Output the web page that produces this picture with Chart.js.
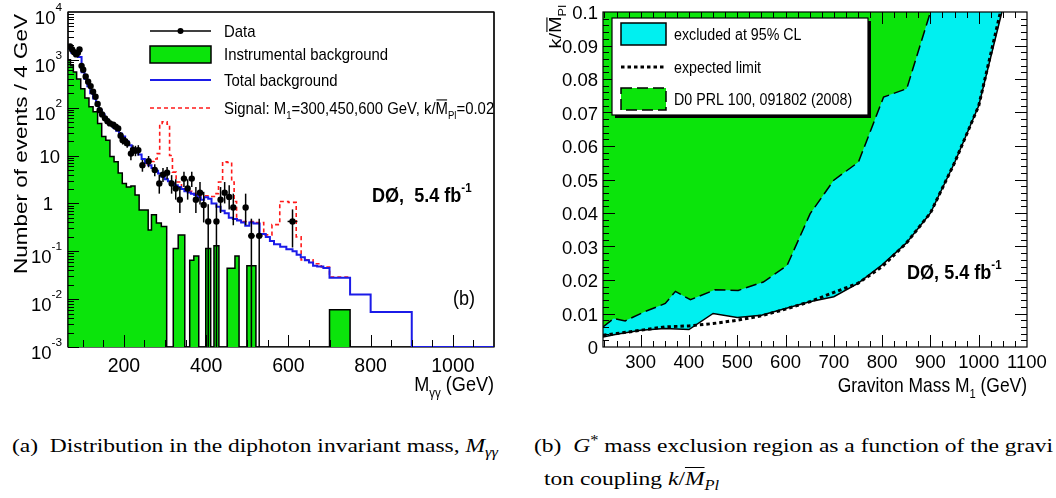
<!DOCTYPE html>
<html>
<head>
<meta charset="utf-8">
<script src="https://cdn.jsdelivr.net/npm/chart.js@4.4.1/dist/chart.umd.min.js"></script>
<style>
  html, body { margin: 0; padding: 0; background: #fff; width: 1056px; height: 498px; overflow: hidden; }
  canvas { position: absolute; top: 0; }
  #left { left: 0; }
  #right { left: 530px; }
  .cap { position: absolute; font-family: "Liberation Serif", "Times New Roman", serif; font-size: 19.5px;
         line-height: 20px; white-space: nowrap; color: #000; transform-origin: 0 0; }
  .cap sub, .cap sup { font-size: 70%; line-height: 0; }
  .ov { text-decoration: overline; }
</style>
</head>
<body>
<canvas id="left" width="525" height="405"></canvas>
<canvas id="right" width="526" height="405"></canvas>
<div id="capA" class="cap" style="left:12px;top:436px">(a)&nbsp; Distribution in the diphoton invariant mass, <i>M<sub>γγ</sub></i></div>
<div class="cap" style="left:534px;top:436px">(b)&nbsp; <i>G</i><sup>*</sup> mass exclusion region as a function of the gravi</div>
<div class="cap" style="left:544px;top:469px">ton coupling <i>k</i>/<i><span class="ov">M</span><sub>Pl</sub></i></div>
<script>
// ---------- panel (a): diphoton invariant mass ----------
const massMin = 64, massMax = 1100;
const FLOOR = 1e-3; // empty bins sit on the axis floor of the log scale

// instrumental background (green), bin low edges and heights
const instEdges = [64, 70, 77, 85, 95, 105, 115, 125, 136, 146, 156, 166, 176, 186, 196, 206, 217, 227, 237, 259,
  267, 279, 291, 304, 320, 332, 348, 360, 370, 382, 399, 411, 419, 431, 451, 470, 480, 499, 521, 700, 750, 1100];
const instVals = [1000, 750, 560, 400, 250, 160, 105, 82, 47, 25, 21, 9.6, 7.4, 4.3, 2.6, 2.2, 2.3, 1.5, 0.73, 0.28,
  0.58, 0.39, 0.33, 0, 0.115, 0.22, 0, 0.065, 0.08, 0, 0.115, 0, 0.13, 0, 0.044, 0.08, 0, 0.05, 0, 0.006, 0, 0];

// total background (blue)
const bkgEdges = [64, 72, 80, 88, 97, 104, 111, 118, 125, 132, 139, 146, 153, 160, 167, 174, 181, 188, 195, 203,
  211, 219, 227, 235, 243, 251, 259, 267, 275, 283, 291, 299, 307, 315, 323, 331, 339, 347, 355, 363,
  371, 379, 387, 395, 405, 413, 425, 435, 445, 455, 465, 475, 485, 495, 505, 515, 530, 545, 555, 565,
  580, 595, 610, 620, 630, 640, 650, 660, 670, 685, 700, 750, 800, 900, 1100];
const bkgVals = [1700, 1400, 1250, 1150, 550, 400, 280, 200, 155, 115, 90, 72, 58, 50, 44, 38, 33, 29, 25, 20,
  16.5, 14, 12, 10.5, 8.5, 7, 6.3, 5.5, 4.8, 4.2, 3.6, 3.2, 2.9, 2.6, 2.4, 2.2, 2.0, 1.8, 1.7, 1.6,
  1.5, 1.35, 1.2, 1.35, 1.25, 1.0, 0.85, 0.7, 0.62, 0.5, 0.47, 0.44, 0.4, 0.34, 0.4, 0.38, 0.23, 0.2, 0.165, 0.14,
  0.125, 0.11, 0.1, 0.085, 0.075, 0.065, 0.058, 0.05, 0.048, 0.045, 0.028, 0.0125, 0.0054, 0, 0];

// background + signal, M1 = 300, 450, 600 GeV (red dashed)
const sigEdges = [255, 265, 273, 281, 287, 293, 305, 311, 318, 327, 340, 350, 365, 380, 395, 410, 420, 430, 440, 451,
  462, 468, 474, 490, 520, 540, 560, 579, 600, 619, 631, 660, 680, 700, 750];
const sigVals = [6.5, 7.5, 8.5, 11, 45, 51, 45, 10, 4.5, 2.8, 2.2, 1.8, 1.6, 1.45, 1.45, 1.4, 1.6, 2.8, 7.4, 7.2,
  2.8, 1.1, 0.45, 0.42, 0.4, 0.22, 0.36, 1.1, 1.05, 0.2, 0.066, 0.055, 0.047, 0.029, 0.029];

// data points with error bar ends
const dataM = [69, 74, 79, 84, 88, 92, 97, 101, 107, 113, 119, 125, 131, 136, 141, 147, 154, 160, 166, 174,
  180, 186, 192, 197, 203, 208, 217, 222, 228, 235, 245, 260, 275, 286, 295, 305, 316, 326, 336, 346,
  355, 365, 375, 385, 394, 405, 425, 435, 445, 456, 466, 496, 510, 529, 610];
const dataN = [1900, 1650, 1450, 1300, 1400, 1650, 750, 620, 450, 350, 283, 215, 170, 120, 89, 72, 60, 52, 47, 44,
  40, 37, 26, 21, 20, 18, 11, 13, 12.6, 13, 6.3, 7.6, 5, 2.6, 4, 4.4, 2.6, 2.05, 1.2, 3.3,
  2.05, 3.3, 1.2, 1.68, 0.93, 0.42, 0.42, 1.2, 1.68, 1.37, 0.82, 0.82, 0.21, 0.21, 0.42];
const dataLo = [null, null, null, null, null, null, null, null, null, null, null, null, null, null, null, null, null, null, null, null,
  null, null, 21, 17, 16, 14.5, 8, 10, 9.7, 10, 4.6, 5.7, 3.7, 1.6, 2.8, 3.2, 1.6, 1.2, 0.63, 2.2,
  1.2, 2.2, 0.63, 0.95, 0.4, 0, 0, 0.63, 1.0, 0.75, 0.35, 0.35, 0, 0, 0.12];
const dataHi = [null, null, null, null, null, null, null, null, null, null, null, null, null, null, null, null, null, null, null, null,
  null, null, 31, 25.5, 24.5, 22, 14.5, 16.5, 16, 16.5, 8.1, 9.8, 6.6, 4.0, 5.5, 5.8, 3.9, 3.2, 2.2, 4.6,
  3.2, 4.6, 2.2, 2.8, 1.75, 0.96, 0.96, 2.2, 2.8, 2.4, 1.6, 1.6, 0.48, 0.48, 0.75];
const dataXErr = [0, 0, 0, 0, 0, 0, 0, 0, 0, 0, 0, 0, 0, 0, 0, 0, 0, 0, 0, 0,
  0, 0, 0, 0, 0, 0, 0, 0, 0, 0, 4, 4, 4, 4, 4, 4, 4, 4, 4, 4,
  4, 4, 4, 4, 4, 4, 4, 4, 4, 4, 4, 4, 8, 8, 12];

const leftXTicks = [200, 400, 600, 800, 1000];
const leftYTickVals = [1e-3, 1e-2, 1e-1, 1, 10, 100, 1000, 10000];
const leftYTickText = [['10', '-3'], ['10', '-2'], ['10', '-1'], ['1', ''], ['10', ''], ['10', '2'], ['10', '3'], ['10', '4']];

// ---------- panel (b): exclusion in k/MPl vs M1 ----------
const oldM = [222, 244, 268, 306, 351, 372, 403, 454, 502, 554, 603, 651, 700, 751, 803, 851, 900];
const oldK = [0.006, 0.0085, 0.0078, 0.0104, 0.013, 0.0166, 0.0141, 0.0171, 0.0169, 0.0194, 0.0243, 0.0398, 0.0498,
  0.0552, 0.0746, 0.0771, 0.1];
const obsM = [222, 250, 300, 350, 400, 450, 500, 550, 600, 650, 700, 750, 800, 850, 900, 950, 1000, 1048];
const obsK = [0.003, 0.0038, 0.005, 0.0055, 0.0052, 0.0100, 0.0088, 0.0095, 0.0115, 0.0135, 0.015, 0.019, 0.0245,
  0.031, 0.040, 0.055, 0.072, 0.1];
const expM = [222, 250, 300, 350, 400, 450, 500, 550, 600, 650, 700, 750, 800, 850, 900, 950, 1000, 1045];
const expK = [0.0035, 0.004, 0.005, 0.006, 0.0063, 0.007, 0.008, 0.0093, 0.0113, 0.0135, 0.0163, 0.019, 0.024,
  0.031, 0.040, 0.055, 0.072, 0.1];

const rightXTicks = [300, 400, 500, 600, 700, 800, 900, 1000, 1100];
const rightYTicks = [0, 0.01, 0.02, 0.03, 0.04, 0.05, 0.06, 0.07, 0.08, 0.09, 0.1];
const rightYTickText = ['0', '0.01', '0.02', '0.03', '0.04', '0.05', '0.06', '0.07', '0.08', '0.09', '0.1'];

const GREEN = '#0be40b', CYAN = '#00f0f0', BLUE = '#1b1be8', RED = '#ff1a1a';
const FONT = '"Liberation Sans", Arial, Helvetica, sans-serif';

const toXY = (xs, ys) => xs.map((x, i) => ({ x: x, y: ys[i] > 0 ? ys[i] : FLOOR }));

// text with sub/superscripts, overbars and a horizontal squash like the original figure
function rich(ctx, parts, x, y, size, opt) {
  opt = opt || {};
  const w8 = opt.bold ? 'bold ' : '';
  const segs = parts.map(p => {
    const small = p[1] === 'sub' || p[1] === 'sup';
    const fs = small ? size * (opt.small || 0.64) : size;
    ctx.font = w8 + fs + 'px ' + FONT;
    return { t: p[0], k: p[1], fs: fs, w: ctx.measureText(p[0]).width };
  });
  const total = segs.reduce((a, s) => a + s.w, 0);
  ctx.save();
  ctx.translate(x, y);
  if (opt.rot) ctx.rotate(opt.rot);
  ctx.scale(opt.sx || 1, opt.sy || 1);
  ctx.fillStyle = '#000';
  ctx.textAlign = 'left';
  ctx.textBaseline = 'alphabetic';
  let cx = opt.align === 'right' ? -total : (opt.align === 'center' ? -total / 2 : 0);
  segs.forEach(s => {
    ctx.font = w8 + s.fs + 'px ' + FONT;
    let dy = 0;
    if (s.k === 'sub') dy = size * (opt.subDrop || 0.3);
    if (s.k === 'sup') dy = -size * (opt.supRise || 0.45);
    ctx.fillText(s.t, cx, dy);
    if (s.k === 'bar') ctx.fillRect(cx + 1, -size * 0.86, s.w - 2, Math.max(1, size * 0.065));
    cx += s.w;
  });
  ctx.restore();
}

function seg(ctx, x1, y1, x2, y2) {
  ctx.beginPath(); ctx.moveTo(x1, y1); ctx.lineTo(x2, y2); ctx.stroke();
}

const leftDecor = {
  id: 'leftDecor',
  beforeDatasetsDraw(chart) {
    const { ctx, chartArea: a } = chart;
    ctx.save(); ctx.strokeStyle = '#000'; ctx.lineWidth = 1.2;
    ctx.strokeRect(a.left, a.top, a.right - a.left, a.bottom - a.top);
    ctx.restore();
  },
  afterDatasetDraw(chart, args) {
    if (args.index !== 1) return; // error bars go on top of the backgrounds, under the dots
    const { ctx, chartArea: a } = chart;
    const xs = chart.scales.x, ys = chart.scales.y;
    ctx.save();
    ctx.beginPath(); ctx.rect(a.left, a.top, a.right - a.left, a.bottom - a.top); ctx.clip();
    ctx.strokeStyle = '#000'; ctx.lineWidth = 1.5;
    dataM.forEach((m, i) => {
      const px = xs.getPixelForValue(m);
      const py = ys.getPixelForValue(dataN[i]);
      if (dataHi[i] !== null) {
        const top = ys.getPixelForValue(dataHi[i]);
        const bot = dataLo[i] > 0 ? ys.getPixelForValue(dataLo[i]) : a.bottom;
        seg(ctx, px, top, px, bot);
      }
      if (dataXErr[i] > 0) {
        seg(ctx, xs.getPixelForValue(m - dataXErr[i]), py, xs.getPixelForValue(m + dataXErr[i]), py);
      }
    });
    ctx.restore();
  },
  afterDraw(chart) {
    const { ctx, chartArea: a } = chart;
    const xs = chart.scales.x, ys = chart.scales.y;
    ctx.save();
    ctx.strokeStyle = '#000'; ctx.lineWidth = 1.2;
    seg(ctx, a.left, a.bottom, a.left, a.top);
    seg(ctx, a.left, a.top, a.right, a.top);
    seg(ctx, a.right, a.top, a.right, a.bottom);
    ctx.lineWidth = 1;
    for (let e = -3; e <= 3; e++) {
      for (let k = 1; k <= 9; k++) {
        const py = Math.round(ys.getPixelForValue(k * Math.pow(10, e))) + 0.5;
        seg(ctx, a.left, py, a.left + (k === 1 ? 11 : 6), py);
      }
    }
    for (let m = 100; m <= 1050; m += 50) {
      const px = Math.round(xs.getPixelForValue(m)) + 0.5;
      seg(ctx, px, a.bottom, px, a.bottom - (m % 200 === 0 ? 12 : 7));
    }
    ctx.restore();

    // tick labels
    leftYTickVals.forEach((v, i) => {
      const py = ys.getPixelForValue(v);
      const t = leftYTickText[i];
      if (t[1]) rich(ctx, [[t[0], ''], [t[1], 'sup']], a.left - 6, py + 12, 18.5, { align: 'right', supRise: 0.7 });
      else if (t[0] === '1') rich(ctx, [[t[0], '']], a.left - 20, py + 7, 18.5, { align: 'center' });
      else rich(ctx, [[t[0], '']], a.left - 8, py + 7, 18.5, { align: 'right' });
    });
    leftXTicks.forEach(m => {
      rich(ctx, [[String(m), '']], xs.getPixelForValue(m), 372, 19.5, { align: 'center' });
    });

    // axis titles
    rich(ctx, [['M', ''], ['γγ', 'sub'], [' (GeV)', '']], a.right, 391, 21, { align: 'right', sx: 0.86 });
    rich(ctx, [['Number of events / 4 GeV', '']], 27, 14, 22.5, { align: 'right', rot: -Math.PI / 2, sy: 0.82 });

    // legend
    ctx.save();
    ctx.strokeStyle = '#000'; ctx.lineWidth = 1.5;
    seg(ctx, 150, 31, 211, 31);
    ctx.fillStyle = '#000'; ctx.beginPath(); ctx.arc(180.5, 31, 3, 0, Math.PI * 2); ctx.fill();
    ctx.fillStyle = GREEN; ctx.fillRect(150, 46, 61, 17); ctx.strokeRect(150, 46, 61, 17);
    ctx.strokeStyle = BLUE; ctx.lineWidth = 2; seg(ctx, 150, 80, 211, 80);
    ctx.strokeStyle = RED; ctx.lineWidth = 1.6; ctx.setLineDash([4, 3]); seg(ctx, 150, 108, 211, 108);
    ctx.restore();
    const lg = { sx: 0.877 };
    rich(ctx, [['Data', '']], 224, 37, 17, lg);
    rich(ctx, [['Instrumental background', '']], 224, 60, 17, lg);
    rich(ctx, [['Total background', '']], 224, 86, 17, lg);
    rich(ctx, [['Signal: M', ''], ['1', 'sub'], ['=300,450,600 GeV, k/', ''], ['M', 'bar'], ['Pl', 'sub'], ['=0.02', '']],
      224, 114, 17, { sx: 0.877, subDrop: 0.32 });

    rich(ctx, [['DØ,  5.4 fb', ''], ['-1', 'sup']], 372, 202, 21, { bold: true, sx: 0.86, supRise: 0.5 });
    rich(ctx, [['(b)', '']], 453, 305, 21, { sx: 0.86 });
  }
};

const rightDecor = {
  id: 'rightDecor',
  afterDraw(chart) {
    const { ctx, chartArea: a } = chart;
    const xs = chart.scales.x, ys = chart.scales.y;
    ctx.save();
    ctx.strokeStyle = '#000'; ctx.lineWidth = 1.2;
    ctx.strokeRect(a.left, a.top, a.right - a.left, a.bottom - a.top);
    ctx.lineWidth = 1;
    for (let m = 225; m < 1100; m += 25) {
      const px = Math.round(xs.getPixelForValue(m)) + 0.5;
      const len = m % 100 === 0 ? 12 : 6;
      seg(ctx, px, a.bottom, px, a.bottom - len);
      seg(ctx, px, a.top, px, a.top + len);
    }
    for (let i = 1; i < 50; i++) {
      const py = Math.round(ys.getPixelForValue(i * 0.002)) + 0.5;
      const len = i % 5 === 0 ? 12 : 6;
      seg(ctx, a.left, py, a.left + len, py);
      seg(ctx, a.right, py, a.right - len, py);
    }
    ctx.restore();

    rightYTicks.forEach((v, i) => {
      rich(ctx, [[rightYTickText[i], '']], a.left - 5, ys.getPixelForValue(v) + 7, 18.5, { align: 'right' });
    });
    rightXTicks.forEach(m => {
      rich(ctx, [[String(m), '']], xs.getPixelForValue(m), 368, 18.5, { align: 'center' });
    });

    rich(ctx, [['Graviton Mass M', ''], ['1', 'sub'], [' (GeV)', '']], a.right, 392, 21, { align: 'right', sx: 0.83 });
    rich(ctx, [['k/', ''], ['M', 'bar'], ['Pl', 'sub']], 31, 5, 20, { align: 'right', rot: -Math.PI / 2, sy: 0.85 });

    // legend box with shadow
    ctx.save();
    ctx.fillStyle = '#000'; ctx.fillRect(85, 21, 256, 97);
    ctx.fillStyle = '#fff'; ctx.fillRect(82, 18, 256, 97);
    ctx.strokeStyle = '#000'; ctx.lineWidth = 1.2; ctx.strokeRect(82, 18, 256, 97);
    ctx.lineWidth = 1.5;
    ctx.fillStyle = CYAN; ctx.fillRect(91, 23, 45, 22); ctx.strokeRect(91, 23, 45, 22);
    ctx.lineWidth = 3; ctx.setLineDash([3.5, 3]); seg(ctx, 91, 67, 136, 67);
    ctx.lineWidth = 1.5; ctx.setLineDash([11, 5]);
    ctx.fillStyle = GREEN; ctx.fillRect(91, 88, 45, 22); ctx.strokeRect(91, 88, 45, 22);
    ctx.restore();
    const lg = { sx: 0.89 };
    rich(ctx, [['excluded at 95% CL', '']], 144, 39.5, 16, lg);
    rich(ctx, [['expected limit', '']], 144, 72.5, 16, lg);
    rich(ctx, [['D0 PRL 100, 091802 (2008)', '']], 144, 104.5, 16, lg);

    rich(ctx, [['DØ, 5.4 fb', ''], ['-1', 'sup']], 377, 279, 21, { bold: true, sx: 0.86, supRise: 0.5 });
  }
};

const common = {
  responsive: false,
  animation: false,
  events: [],
  plugins: { legend: { display: false }, tooltip: { enabled: false } }
};
const hidden = { grid: { display: false }, border: { display: false }, ticks: { display: false } };

// histogram steps: each value holds from its edge to the next edge
new Chart(document.getElementById('left'), {
  type: 'line',
  data: {
    datasets: [
      { label: 'Data', data: toXY(dataM, dataN), showLine: false, pointRadius: 3.2, pointBorderWidth: 0,
        pointBackgroundColor: '#000', order: 0 },
      { label: 'Total background', data: toXY(bkgEdges, bkgVals), stepped: 'before', borderColor: BLUE, borderWidth: 2,
        pointRadius: 0, fill: false, order: 1 },
      { label: 'Signal', data: toXY(sigEdges, sigVals), stepped: 'before', borderColor: RED, borderWidth: 1.6,
        borderDash: [4, 3], pointRadius: 0, fill: false, order: 2 },
      { label: 'Instrumental background', data: toXY(instEdges, instVals), stepped: 'before', borderColor: '#000',
        borderWidth: 1.5, backgroundColor: GREEN, fill: 'start', pointRadius: 0, order: 3 }
    ]
  },
  options: Object.assign({}, common, {
    layout: { padding: { left: 0, right: 31, top: 12, bottom: 0 } },
    scales: {
      x: Object.assign({ type: 'linear', min: massMin, max: massMax, afterFit(s) { s.height = 58; } }, hidden),
      y: Object.assign({ type: 'logarithmic', min: 1e-3, max: 1e4, afterFit(s) { s.width = 68; } }, hidden)
    }
  }),
  plugins: [leftDecor]
});

new Chart(document.getElementById('right'), {
  type: 'line',
  data: {
    datasets: [
      { label: 'expected limit', data: toXY(expM, expK), borderColor: '#000', borderWidth: 3, borderDash: [3.5, 3],
        pointRadius: 0, fill: false, order: 0 },
      { label: 'D0 PRL 100, 091802 (2008)', data: toXY(oldM, oldK), borderColor: '#000', borderWidth: 1.5,
        borderDash: [11, 5], backgroundColor: GREEN, fill: 'end', pointRadius: 0, order: 1 },
      { label: 'excluded at 95% CL', data: toXY(obsM, obsK), borderColor: '#000', borderWidth: 1.5,
        backgroundColor: CYAN, fill: 'end', pointRadius: 0, order: 2 }
    ]
  },
  options: Object.assign({}, common, {
    layout: { padding: { left: 0, right: 29, top: 12, bottom: 0 } },
    scales: {
      x: Object.assign({ type: 'linear', min: 222, max: 1100, afterFit(s) { s.height = 58; } }, hidden),
      y: Object.assign({ type: 'linear', min: 0, max: 0.1, afterFit(s) { s.width = 73; } }, hidden)
    }
  }),
  plugins: [rightDecor]
});

// captions: same horizontal scale for all, fitted to the first line's width
const CAP_A_WIDTH = 486;
const capScale = CAP_A_WIDTH / document.getElementById('capA').getBoundingClientRect().width;
document.querySelectorAll('.cap').forEach(el => { el.style.transform = 'scaleX(' + capScale + ')'; });
</script>
</body>
</html>
